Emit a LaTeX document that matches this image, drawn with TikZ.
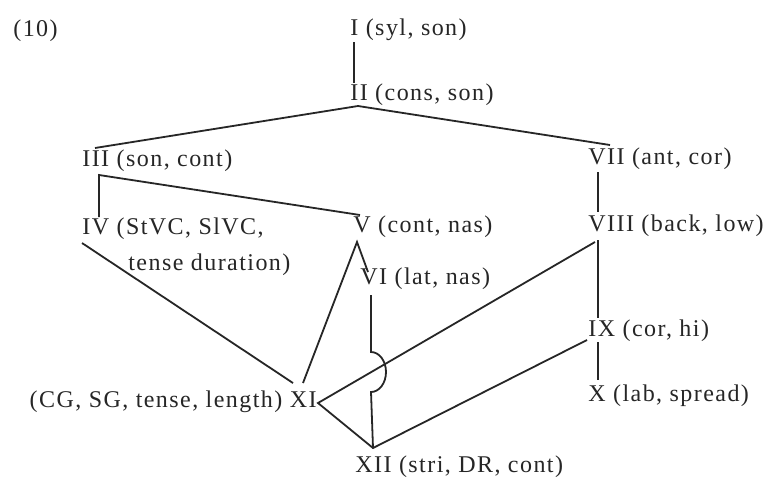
\documentclass[tikz,border=0pt]{standalone}
\usepackage{fontspec}
\setmainfont{Liberation Serif}[LetterSpace=6]
\begin{document}
\begin{tikzpicture}[x=0.5pt,y=-0.5pt,
  lbl/.style={anchor=base west, inner sep=0pt, font=\fontsize{12pt}{14pt}\selectfont, text=black!85},
  lble/.style={lbl, anchor=base east},
  edge/.style={line width=0.9pt, draw=black!85}]
\useasboundingbox (0,0) rectangle (774,477);
\fill[white] (0,0) rectangle (774,477);

% labels
\node[lbl] (n10) at (13,36) {(10)};
\node[lbl] (nI) at (350,35) {I (syl, son)};
\node[lbl] (nII) at (350,100) {II (cons, son)};
\node[lbl] (nIII) at (82,166) {III (son, cont)};
\node[lbl] (nVII) at (588,164) {VII (ant, cor)};
\node[lbl] (nIV) at (82,234) {IV (StVC, SlVC,};
\node[lbl] (nIVb) at (128,270) {tense duration)};
\node[lbl] (nV) at (353,232) {V (cont, nas)};
\node[lbl] (nVIII) at (588,231) {VIII (back, low)};
\node[lbl] (nVI) at (360,284) {VI (lat, nas)};
\node[lbl] (nIX) at (588,336) {IX (cor, hi)};
\node[lbl] (nX) at (588,401) {X (lab, spread)};
\node[lble] (nXI) at (317,407) {(CG, SG, tense, length) XI};
\node[lbl] (nXII) at (355,472) {XII (stri, DR, cont)};

% attachment points
\coordinate (pIb) at (354,42);
\coordinate (pIIt) at (354,83);
\coordinate (pIIb) at (358,106);
\coordinate (pIIIt) at (95,148);
\coordinate (pVIIt) at (610,145);
\coordinate (pIIIb) at (99,175);
\coordinate (pIVt) at (99,217);
\coordinate (pVt) at (360,215);
\coordinate (pIVb) at (82,243);
\coordinate (pVb) at (357,242);
\coordinate (pVIt) at (368,272);
\coordinate (pVIb) at (371,295);
\coordinate (pBr) at (371,352);
\coordinate (pXIa) at (293,383);
\coordinate (pXIb) at (303,383);
\coordinate (pXIr) at (318,403);
\coordinate (pXIIt) at (373,448);
\coordinate (pVIIb) at (598,172);
\coordinate (pVIIIt) at (598,212);
\coordinate (pVIIIb) at (598,240);
\coordinate (pVIIIl) at (595,242);
\coordinate (pIXt) at (598,318);
\coordinate (pIXl) at (587,340);
\coordinate (pIXb) at (598,342);
\coordinate (pXt) at (598,380);

% connectors
\draw[edge] (pIb) -- (pIIt);
\draw[edge] (pIIIt) -- (pIIb) -- (pVIIt);
\draw[edge] (pIVt) -- (pIIIb) -- (pVt);
\draw[edge] (pIVb) -- (pXIa);
\draw[edge] (pXIb) -- (pVb) -- (pVIt);
\draw[edge] (pVIb) -- (pBr) arc[start angle=-90, end angle=90, x radius=15, y radius=20] -- (pXIIt);
\draw[edge] (pVIIIl) -- (pXIr) -- (pXIIt) -- (pIXl);
\draw[edge] (pVIIb) -- (pVIIIt);
\draw[edge] (pVIIIb) -- (pIXt);
\draw[edge] (pIXb) -- (pXt);
\end{tikzpicture}
\end{document}
